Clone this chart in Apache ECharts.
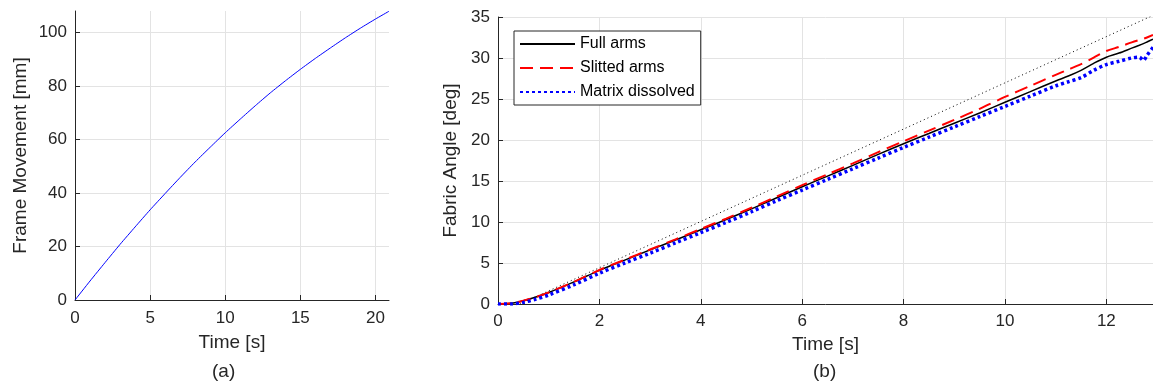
<!DOCTYPE html>
<html>
<head>
<meta charset="utf-8">
<script src="https://cdn.jsdelivr.net/npm/echarts@6/dist/echarts.min.js"></script>
<style>
  html, body { margin: 0; padding: 0; background: #fff; }
  #main { width: 1153px; height: 385px; }
</style>
</head>
<body>
<div id="main"></div>
<script>
// (a) frame movement vs time
const frameTime = [0, 1, 2, 3, 4, 5, 6, 7, 8, 9, 10, 11, 12, 13, 14, 15, 16, 17, 18, 19, 20, 20.9];
const frameMove = [0, 7.1, 14.0, 20.8, 27.3, 33.7, 39.8, 45.8, 51.6, 57.1, 62.5, 67.6, 72.6, 77.4, 81.9, 86.2, 90.3, 94.2, 98.0, 101.6, 105.0, 107.9];

// (b) fabric angle vs time
const angleTime = [0, 0.25, 0.5, 0.75, 1, 1.5, 2, 2.5, 3, 3.5, 4, 4.5, 5, 5.5, 6, 6.5, 7, 7.5, 8, 8.5, 9, 9.5, 10, 10.5, 11, 11.25, 11.5, 11.75, 12, 12.25, 12.5, 12.65, 12.73, 12.8, 12.92];
const fullArms = [0, 0.08, 0.4, 0.85, 1.4, 2.7, 4.1, 5.35, 6.6, 7.8, 9.05, 10.3, 11.6, 12.95, 14.3, 15.6, 16.9, 18.25, 19.55, 20.8, 22.05, 23.3, 24.6, 25.9, 27.2, 27.8, 28.5, 29.35, 30.1, 30.6, 31.2, 31.55, 31.75, 31.95, 32.3];
const slittedArms = [0, 0.08, 0.4, 0.85, 1.4, 2.72, 4.15, 5.4, 6.65, 7.88, 9.15, 10.42, 11.75, 13.12, 14.5, 15.82, 17.15, 18.52, 19.85, 21.15, 22.45, 23.8, 25.25, 26.6, 27.95, 28.6, 29.25, 30.05, 30.85, 31.35, 31.9, 32.2, 32.35, 32.5, 32.8];
const matrixDissolved = [0, 0, 0.2, 0.6, 1.1, 2.35, 3.75, 5.0, 6.2, 7.45, 8.7, 9.95, 11.25, 12.6, 13.9, 15.2, 16.5, 17.8, 19.1, 20.35, 21.6, 22.85, 24.1, 25.35, 26.6, 27.1, 27.6, 28.5, 29.2, 29.6, 30.0, 30.1, 29.7, 30.3, 31.3];
const refTime = [0.43, 12.92];
const refAngle = [0, 35.2];

const pairs = (xs, ys) => xs.map((x, i) => [x, ys[i]]);

const font = '"Liberation Sans", Arial, sans-serif';
const ink = '#262626';
const gridColor = '#e3e3e3';

const axisCommon = {
  axisLine: { show: true, lineStyle: { color: ink, width: 1 } },
  axisTick: { show: true, inside: true, length: 5, lineStyle: { color: ink } },
  axisLabel: { color: ink, fontSize: 17, fontFamily: font, showMaxLabel: false },
  splitLine: { show: true, showMaxLine: false, lineStyle: { color: gridColor, width: 1 } },
  nameTextStyle: { color: ink, fontSize: 19, fontFamily: font },
  nameLocation: 'middle'
};

const chart = echarts.init(document.getElementById('main'));
chart.setOption({
  animation: false,
  backgroundColor: '#fff',
  grid: [
    { left: 75, right: 764, top: 11, bottom: 85 },
    { left: 498, right: 0, top: 17, bottom: 81 }
  ],
  xAxis: [
    Object.assign({}, axisCommon, {
      gridIndex: 0, type: 'value', min: 0, max: 20.9, interval: 5,
      name: 'Time [s]', nameGap: 33,
      axisLabel: Object.assign({}, axisCommon.axisLabel, { margin: 10 })
    }),
    Object.assign({}, axisCommon, {
      gridIndex: 1, type: 'value', min: 0, max: 12.92, interval: 2,
      name: 'Time [s]', nameGap: 29,
      axisLabel: Object.assign({}, axisCommon.axisLabel, { margin: 9 })
    })
  ],
  yAxis: [
    Object.assign({}, axisCommon, {
      gridIndex: 0, type: 'value', min: 0, max: 108, interval: 20,
      name: 'Frame Movement [mm]', nameGap: 45,
      axisLabel: Object.assign({}, axisCommon.axisLabel, { margin: 8 })
    }),
    Object.assign({}, axisCommon, {
      gridIndex: 1, type: 'value', min: 0, max: 35, interval: 5,
      name: 'Fabric Angle [deg]', nameGap: 25,
      axisLabel: Object.assign({}, axisCommon.axisLabel, { margin: 8, showMaxLabel: true }),
      splitLine: { show: true, lineStyle: { color: gridColor, width: 1 } }
    })
  ],
  legend: {
    data: ['Full arms', 'Slitted arms', 'Matrix dissolved'],
    orient: 'vertical',
    left: 514, top: 31,
    itemWidth: 55, itemHeight: 14, itemGap: 8,
    padding: [5, 6, 5, 5],
    borderColor: ink, borderWidth: 1,
    backgroundColor: '#fff',
    itemStyle: { opacity: 0 },
    textStyle: { color: '#000', fontSize: 16, fontFamily: font }
  },
  graphic: [
    { type: 'text', left: 212, top: 362, style: { text: '(a)', fontSize: 19, fontFamily: font, fill: ink } },
    { type: 'text', left: 813, top: 362, style: { text: '(b)', fontSize: 19, fontFamily: font, fill: ink } }
  ],
  series: [
    {
      type: 'line', xAxisIndex: 0, yAxisIndex: 0,
      data: pairs(frameTime, frameMove), smooth: 0.2, symbol: 'none',
      lineStyle: { color: '#0000ff', width: 1 }
    },
    {
      name: 'ref', type: 'line', xAxisIndex: 1, yAxisIndex: 1,
      data: pairs(refTime, refAngle), symbol: 'none',
      lineStyle: { color: '#000', width: 1, type: [1, 3] }
    },
    {
      name: 'Full arms', type: 'line', xAxisIndex: 1, yAxisIndex: 1,
      data: pairs(angleTime, fullArms), smooth: 0.3, symbol: 'none',
      color: '#000', lineStyle: { color: '#000', width: 1.5 }
    },
    {
      name: 'Slitted arms', type: 'line', xAxisIndex: 1, yAxisIndex: 1,
      data: pairs(angleTime, slittedArms), smooth: 0.3, symbol: 'none',
      color: '#ff0000', lineStyle: { color: '#ff0000', width: 2, type: [13, 7] }
    },
    {
      name: 'Matrix dissolved', type: 'line', xAxisIndex: 1, yAxisIndex: 1,
      data: pairs(angleTime, matrixDissolved), smooth: 0.3, symbol: 'none',
      color: '#0000ff', lineStyle: { color: '#0000ff', width: 3.5, type: [3, 3], cap: 'butt' }
    }
  ]
});
</script>
</body>
</html>
